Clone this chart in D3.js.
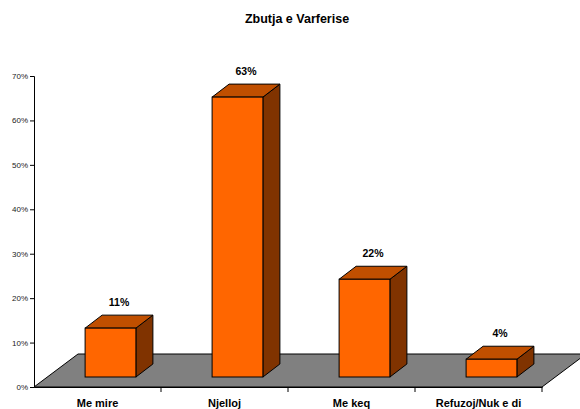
<!DOCTYPE html>
<html lang="sq">
<head>
  <meta charset="UTF-8">
  <title>Zbutja e Varferise</title>
  <style>
    body { margin: 0; padding: 0; background: #fff; }
    svg { display: block; font-family: Arial, "Liberation Sans", sans-serif; }
  </style>
</head>
<body>
  <div id="chart"></div>
  <script src="https://d3js.org/d3.v7.min.js"></script>
  <script>
    // Te dhenat
    const title = "Zbutja e Varferise";
    const categories = ["Me mire", "Njelloj", "Me keq", "Refuzoj/Nuk e di"];
    const values = [0.11, 0.63, 0.22, 0.04];
    const yTicks = [0, 0.1, 0.2, 0.3, 0.4, 0.5, 0.6, 0.7];

    const width = 580, height = 409;
    // zhvendosja e thellesise (3D)
    const floorDepth = { dx: 44, dy: -33 };
    const barShift = { dx: 13, dy: -10 };
    const barDepth = { dx: 17, dy: -13 };

    const svg = d3.select("#chart").append("svg")
      .attr("width", width)
      .attr("height", height);

    const x = d3.scaleBand()
      .domain(categories)
      .range([34, 542])
      .paddingInner(0)
      .paddingOuter(0);

    const y = d3.scaleLinear()
      .domain([0, 0.7])
      .range([387, 76]);

    const barW = x.bandwidth() * 0.4;

    // Titulli
    svg.append("text")
      .attr("x", 297)
      .attr("y", 23)
      .attr("text-anchor", "middle")
      .attr("font-weight", "bold")
      .attr("font-size", "12.5px")
      .text(title);

    // Dyshemeja gri
    const x0 = x.range()[0], x1 = x.range()[1], yb = y(0);
    svg.append("polygon")
      .attr("points", [
        [x0, yb], [x1, yb],
        [x1 + floorDepth.dx, yb + floorDepth.dy],
        [x0 + floorDepth.dx, yb + floorDepth.dy]
      ].map(p => p.join(",")).join(" "))
      .attr("fill", "#808080")
      .attr("stroke", "#000")
      .attr("stroke-width", 1);

    // Shtylla 3D
    const bars = svg.selectAll("g.bar")
      .data(values)
      .enter()
      .append("g")
      .attr("class", "bar");

    bars.each(function (d, i) {
      const g = d3.select(this);
      const left = x(categories[i]) + (x.bandwidth() - barW) / 2 + barShift.dx;
      const right = left + barW;
      const top = y(d) + barShift.dy;
      const bottom = y(0) + barShift.dy;
      const pts = a => a.map(p => p.join(",")).join(" ");

      // ana e djathte
      g.append("polygon")
        .attr("points", pts([[right, bottom], [right + barDepth.dx, bottom + barDepth.dy],
          [right + barDepth.dx, top + barDepth.dy], [right, top]]))
        .attr("fill", "#803300").attr("stroke", "#000").attr("stroke-width", 1);
      // maja
      g.append("polygon")
        .attr("points", pts([[left, top], [right, top],
          [right + barDepth.dx, top + barDepth.dy], [left + barDepth.dx, top + barDepth.dy]]))
        .attr("fill", "#C04F00").attr("stroke", "#000").attr("stroke-width", 1);
      // faqja e perparme
      g.append("rect")
        .attr("x", left).attr("y", top)
        .attr("width", barW).attr("height", bottom - top)
        .attr("fill", "#FF6600").attr("stroke", "#000").attr("stroke-width", 1);

      // etiketa e vleres
      g.append("text")
        .attr("x", (left + right) / 2 + barDepth.dx / 2)
        .attr("y", top + barDepth.dy - 9)
        .attr("text-anchor", "middle")
        .attr("font-weight", "bold")
        .attr("font-size", "10.5px")
        .text(d3.format(".0%")(d));
    });

    // Boshti Y
    const yAxis = svg.append("g")
      .attr("transform", `translate(${x0},0)`)
      .call(d3.axisLeft(y).tickValues(yTicks).tickFormat(d3.format(".0%")).tickSize(4).tickPadding(2));
    yAxis.select(".domain").attr("stroke", "#000");
    yAxis.selectAll("text").attr("font-size", "8px").attr("fill", "#222").attr("font-family", "Arial, sans-serif");

    // Boshti X
    const xAxis = svg.append("g")
      .attr("transform", `translate(0,${yb})`)
      .call(d3.axisBottom(x).tickSize(0).tickPadding(12));
    xAxis.select(".domain").attr("stroke", "#000");
    xAxis.selectAll("text")
      .attr("font-size", "11px")
      .attr("font-weight", "bold")
      .attr("fill", "#000")
      .attr("font-family", "Arial, sans-serif");

    // vijat ndarese te kategorive
    svg.selectAll("line.sep")
      .data(categories)
      .enter()
      .append("line")
      .attr("class", "sep")
      .attr("x1", d => x(d) + x.bandwidth())
      .attr("x2", d => x(d) + x.bandwidth())
      .attr("y1", yb)
      .attr("y2", yb + 5)
      .attr("stroke", "#000");
  </script>
</body>
</html>
